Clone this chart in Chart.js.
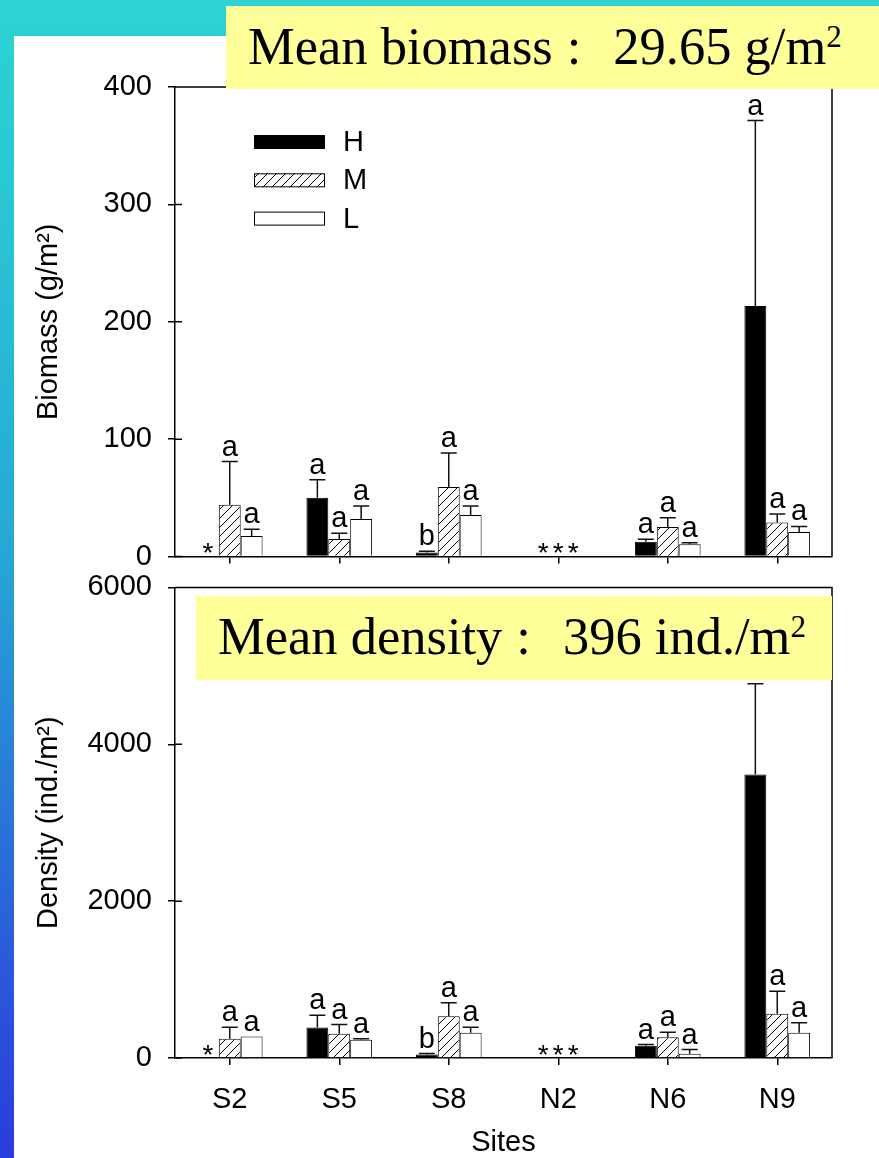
<!DOCTYPE html>
<html>
<head>
<meta charset="utf-8">
<script src="https://cdn.jsdelivr.net/npm/chart.js@4.4.1/dist/chart.umd.min.js"></script>
<style>
html,body{margin:0;padding:0;width:879px;height:1158px;overflow:hidden;}
body{position:relative;background:linear-gradient(to bottom,#2bd4d2 0%,#2ac8d4 15%,#27a8d6 47%,#2a5ad9 83%,#2a3cdc 100%);}
#white{position:absolute;left:14px;top:36px;right:0;bottom:0;background:#fff;}
.chartbox{position:absolute;left:0;width:879px;}
#c1box{top:0;height:590px;}
#c2box{top:554px;height:606px;}
.ybox{position:absolute;background:#ffff99;font-family:"Liberation Serif","Times New Roman",serif;font-size:52.5px;color:#000;white-space:nowrap;line-height:81px;box-sizing:border-box;padding-left:22px;}
#yb1{left:226px;top:6px;width:653px;height:83px;}
#yb2{left:196px;top:596px;width:636px;height:84px;}
.colon{margin:0 32px 0 14px;}
.sup{font-size:31px;position:relative;top:-17px;line-height:0;}
</style>
</head>
<body>
<div id="white"></div>
<div class="chartbox" id="c1box"><canvas id="c1" width="879" height="590"></canvas></div>
<div class="chartbox" id="c2box"><canvas id="c2" width="879" height="606"></canvas></div>
<div class="ybox" id="yb1">Mean biomass<span class="colon">:</span>29.65 g/m<span class="sup">2</span></div>
<div class="ybox" id="yb2">Mean density<span class="colon">:</span>396 ind./m<span class="sup">2</span></div>
<script>
// ---------- data ----------
const sites = ['S2', 'S5', 'S8', 'N2', 'N6', 'N9'];
const levels = ['H', 'M', 'L'];

// Biomass (g/m2): means and standard errors (upward bars)
const bioH = [null, 50.1, 3.4, null, 12.7, 213.4];
const bioM = [44.2, 15.0, 59.2, null, 25.2, 29.1];
const bioL = [17.5, 32.0, 35.4, null, 10.5, 21.0];
const bioHse = [null, 15.3, 1.1, null, 2.0, 158.0];
const bioMse = [36.8, 4.8, 29.1, null, 7.9, 7.1];
const bioLse = [5.7, 11.0, 7.6, null, 1.4, 4.7];
const bioHlet = ['*', 'a', 'b', '*', 'a', 'a'];
const bioMlet = ['a', 'a', 'a', '*', 'a', 'a'];
const bioLlet = ['a', 'a', 'a', '*', 'a', 'a'];

// Density (ind./m2)
const denH = [null, 389, 45, null, 155, 3613];
const denM = [245, 308, 533, null, 265, 563];
const denL = [274, 232, 321, null, 53, 321];
const denHse = [null, 157, 12, null, 17, 1159];
const denMse = [147, 119, 170, null, 64, 289];
const denLse = [0, 13, 72, null, 55, 127];
const denHlet = ['*', 'a', 'b', '*', 'a', 'a'];
const denMlet = ['a', 'a', 'a', '*', 'a', 'a'];
const denLlet = ['a', 'a', 'a', '*', 'a', 'a'];

const bioTicks = [0, 100, 200, 300, 400];
const denTicks = [0, 2000, 4000, 6000];

// ---------- styling ----------
const FONT = '"Liberation Sans", Arial, sans-serif';
const FS = 29;
Chart.defaults.font.family = FONT;
Chart.defaults.font.size = FS;
Chart.defaults.color = '#000';

const hatch = (() => {
  const s = 9;
  const c = document.createElement('canvas'); c.width = s; c.height = s;
  const g = c.getContext('2d');
  g.fillStyle = '#fff'; g.fillRect(0, 0, s, s);
  g.strokeStyle = '#000'; g.lineWidth = 1;
  g.beginPath();
  g.moveTo(-1, s + 1); g.lineTo(s + 1, -1);
  g.moveTo(-1, 1); g.lineTo(1, -1);
  g.moveTo(s - 1, s + 1); g.lineTo(s + 1, s - 1);
  g.stroke();
  return g.createPattern(c, 'repeat');
})();
const fills = ['#000', hatch, '#fff'];

const CAT_PCT = 0.6;

const annotPlugin = {
  id: 'annot',
  afterDatasetsDraw(chart, args, opts) {
    const { ctx, chartArea, scales: { x, y } } = chart;
    const cw = x.getPixelForValue(1) - x.getPixelForValue(0);
    const bw = cw * CAT_PCT / 3;
    ctx.save();
    ctx.strokeStyle = '#111';
    ctx.lineWidth = 1.5;
    ctx.fillStyle = '#000';
    ctx.font = FS + 'px ' + FONT;
    ctx.textAlign = 'center';
    ctx.textBaseline = 'alphabetic';
    chart.data.datasets.forEach((ds, k) => {
      ds.data.forEach((v, i) => {
        if (v == null) return;
        const bx = x.getPixelForValue(i) + (k - 1) * bw;
        const se = opts.ses[k][i] || 0;
        const yb = y.getPixelForValue(v);
        const yt = y.getPixelForValue(v + se);
        if (se > 0) {
          ctx.beginPath();
          ctx.moveTo(bx, yb); ctx.lineTo(bx, yt);
          ctx.moveTo(bx - 8, yt); ctx.lineTo(bx + 8, yt);
          ctx.stroke();
        }
        const lt = opts.letters[k][i];
        if (lt) ctx.fillText(lt, bx, yt - 6);
      });
    });
    // asterisks for absent levels
    ctx.font = '28px ' + FONT;
    const m = ctx.measureText('*');
    const desc = m.actualBoundingBoxDescent;
    const base = chartArea.bottom - 3.5 - desc; // glyph bottom 3.5px above the axis
    const n = chart.data.labels.length;
    for (let i = 0; i < n; i++) {
      const ds = chart.data.datasets;
      const allNull = ds.every(d => d.data[i] == null);
      const cx = x.getPixelForValue(i);
      if (allNull) {
        [-15, 0, 15].forEach(o => ctx.fillText('*', cx + o, base));
      } else {
        ds.forEach((d, k) => {
          if (d.data[i] == null && opts.letters[k][i] === '*') {
            ctx.fillText('*', cx + (k - 1) * bw, base);
          }
        });
      }
    }
    ctx.restore();
  },
  afterDraw(chart, args, opts) {
    const { ctx, chartArea, scales: { y } } = chart;
    ctx.save();
    ctx.strokeStyle = '#000';
    ctx.lineWidth = 1.5;
    ctx.beginPath();
    ctx.moveTo(chartArea.left, chartArea.top);
    ctx.lineTo(chartArea.right, chartArea.top);
    ctx.lineTo(chartArea.right, chartArea.bottom);
    y.ticks.forEach(t => {
      const py = y.getPixelForValue(t.value);
      ctx.moveTo(chartArea.left, py); ctx.lineTo(chartArea.left + 7, py);
    });
    ctx.stroke();
    // legend
    if (opts.legend) {
      const lx = chartArea.left + 79, ly = chartArea.top + 48, gap = 38.3;
      ctx.font = FS + 'px ' + FONT;
      ctx.textAlign = 'left';
      ctx.textBaseline = 'middle';
      ctx.lineWidth = 1;
      chart.data.datasets.forEach((ds, k) => {
        const top = ly + k * gap;
        ctx.fillStyle = ds.backgroundColor;
        ctx.fillRect(lx, top, 71, 14);
        ctx.strokeRect(lx + 0.5, top + 0.5, 70, 13);
        ctx.fillStyle = '#000';
        ctx.fillText(ds.label, lx + 89, top + 8);
      });
    }
    ctx.restore();
  }
};

function makeChart(id, vals, ses, letters, ticks, yTitle, isBottom) {
  const yMax = ticks[ticks.length - 1];
  const step = ticks[1] - ticks[0];
  return new Chart(document.getElementById(id), {
    type: 'bar',
    data: {
      labels: sites,
      datasets: levels.map((lv, k) => ({
        label: lv,
        data: vals[k],
        backgroundColor: fills[k],
        borderColor: '#000',
        borderWidth: 1,
        categoryPercentage: CAT_PCT,
        barPercentage: 1
      }))
    },
    options: {
      responsive: false,
      animation: false,
      layout: { padding: { top: isBottom ? 0 : 87, right: 47, left: 0, bottom: 0 } },
      plugins: {
        legend: { display: false },
        tooltip: { enabled: false },
        annot: { ses: ses, letters: letters, legend: !isBottom }
      },
      scales: {
        x: {
          offset: true,
          grid: { display: true, offset: false, drawOnChartArea: false, drawTicks: true, tickLength: 7, color: '#000', lineWidth: 1.5 },
          border: { display: true, color: '#000', width: 1.5 },
          ticks: { display: isBottom, padding: 18, font: { size: FS }, color: '#000', maxRotation: 0 },
          title: { display: isBottom, text: 'Sites', font: { size: FS }, color: '#000', padding: { top: 0, bottom: 0 } },
          afterFit(s) { s.height = isBottom ? 102 : 32; }
        },
        y: {
          min: 0, max: yMax,
          afterBuildTicks(s) { s.ticks = ticks.map(v => ({ value: v })); },
          grid: { display: true, drawOnChartArea: false, drawTicks: true, tickLength: 7, color: '#000', lineWidth: 1.5 },
          border: { display: true, color: '#000', width: 1.5 },
          ticks: { stepSize: step, padding: 16, font: { size: FS }, color: '#000', callback: v => String(v) },
          title: { display: true, text: yTitle, font: { size: FS }, color: '#000', padding: { top: 32, bottom: 0 } },
          afterFit(s) { s.width = 175; }
        }
      }
    },
    plugins: [annotPlugin]
  });
}

makeChart('c1', [bioH, bioM, bioL], [bioHse, bioMse, bioLse], [bioHlet, bioMlet, bioLlet], bioTicks, 'Biomass (g/m²)', false);
makeChart('c2', [denH, denM, denL], [denHse, denMse, denLse], [denHlet, denMlet, denLlet], denTicks, 'Density (ind./m²)', true);
</script>
</body>
</html>
